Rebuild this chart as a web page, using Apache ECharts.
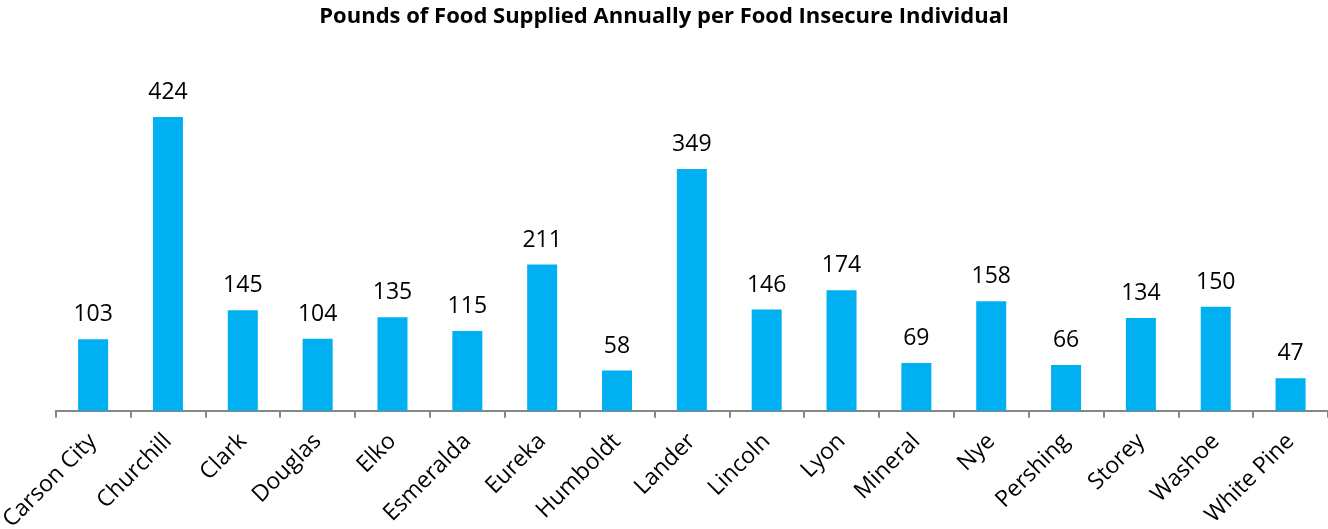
<!DOCTYPE html>
<html><head><meta charset="utf-8">
<script src="https://cdn.jsdelivr.net/npm/echarts@6/dist/echarts.min.js"></script>
<style>html,body{margin:0;padding:0;background:#fff}#c{width:1328px;height:529px}</style>
</head><body><div id="c"></div>
<script>
const categories = ["Carson City","Churchill","Clark","Douglas","Elko","Esmeralda","Eureka","Humboldt","Lander","Lincoln","Lyon","Mineral","Nye","Pershing","Storey","Washoe","White Pine"];
const values = [103,424,145,104,135,115,211,58,349,146,174,69,158,66,134,150,47];
const titleText = "Pounds of Food Supplied Annually per Food Insecure Individual";
const chart = echarts.init(document.getElementById('c'));
chart.setOption({
  animation:false,
  title:{text:titleText,left:'center',top:1,textStyle:{fontFamily:'Open Sans',fontSize:22,fontWeight:'bold',color:'#000'}},
  grid:{left:55.7,right:0,top:99,bottom:118.3,containLabel:false,outerBoundsMode:'none'},
  xAxis:{type:'category',data:categories,
    axisLine:{lineStyle:{color:'#868686',width:2}},
    axisTick:{show:true,length:7,lineStyle:{color:'#868686',width:2}},
    axisLabel:{rotate:45,fontFamily:'Open Sans',fontSize:23,color:'#000',margin:27,interval:0}},
  yAxis:{type:'value',min:0,max:450,show:false,splitLine:{show:false}},
  series:[{type:'bar',data:values,barWidth:30,itemStyle:{color:'#00B0F0'},
    label:{show:true,position:'top',distance:13,fontFamily:'Open Sans',fontSize:23,color:'#000'}}]
});
</script></body></html>
